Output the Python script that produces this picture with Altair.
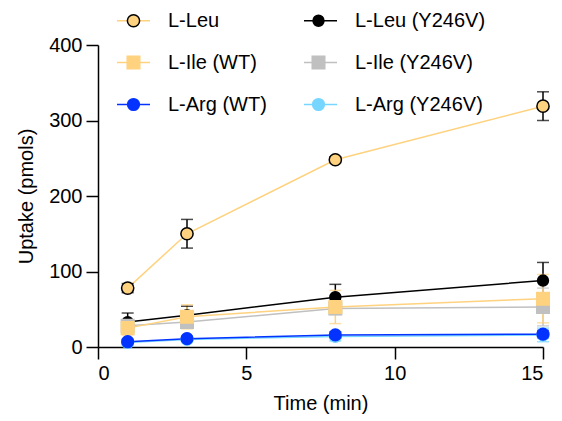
import altair as alt
import pandas as pd

time = [1, 3, 8, 15]
series_names = ["L-Leu", "L-Leu (Y246V)", "L-Ile (WT)", "L-Ile (Y246V)", "L-Arg (WT)", "L-Arg (Y246V)"]
leu_wt = [78, 150, 248, 319]
leu_wt_sd = [6, 19, 4, 19]
leu_y = [33, 42, 66, 88]
leu_y_sd = [12, 12, 17, 24]
ile_wt = [25, 40, 53, 64]
ile_wt_sd = [9, 16, 22, 32]
ile_y = [28, 33, 51, 53]
ile_y_sd = [5, 8, 8, 25]
arg_wt = [7, 11, 16, 17]
arg_wt_sd = [3, 3, 4, 5]
arg_y = [6, 10, 14, 16]
arg_y_sd = [4, 4, 6, 9]

colors = ["#FFD27F", "#000000", "#FFD27F", "#C0C0C0", "#0433FF", "#76D6FF"]
edges = ["#000000", "#000000", "#FFD27F", "#C0C0C0", "#0433FF", "#76D6FF"]
errcols = ["#000000", "#000000", "#FFD27F", "#C0C0C0", "#0433FF", "#76D6FF"]


def circ(r):
    return f"M{-r},0A{r},{r},0,1,1,{r},0A{r},{r},0,1,1,{-r},0Z"


def sq(h):
    return f"M{-h},{-h}H{h}V{h}H{-h}Z"


shapes = [circ(0.37), circ(0.33), sq(0.38), sq(0.38), circ(0.355), circ(0.355)]

# legend fills column-major: reorder so the two columns read WT | Y246V
leg_idx = [0, 2, 4, 1, 3, 5]
dom = [series_names[i] for i in leg_idx]
rng_col = [colors[i] for i in leg_idx]
rng_edge = [edges[i] for i in leg_idx]
rng_shape = [shapes[i] for i in leg_idx]

vals = [leu_wt, leu_y, ile_wt, ile_y, arg_wt, arg_y]
sds = [leu_wt_sd, leu_y_sd, ile_wt_sd, ile_y_sd, arg_wt_sd, arg_y_sd]
draw_order = [1, 3, 2, 5, 4, 0]

rows = []
for i in draw_order:
    for t, v, s in zip(time, vals[i], sds[i]):
        rows.append({"series": series_names[i], "series_p": series_names[i], "time": t,
                     "value": v, "lo": v - s, "hi": v + s, "ecol": errcols[i], "order": draw_order.index(i)})
df = pd.DataFrame(rows)

FONT = "Liberation Sans"
FS = 20

leg_common = dict(orient="none", legendX=18, legendY=-42, columns=2, symbolSize=1089,
                  symbolStrokeWidth=1.5, labelFontSize=FS, labelFont=FONT, labelOffset=17,
                  rowPadding=14, title=None, padding=0, labelLimit=300)

x = alt.X("time:Q", scale=alt.Scale(domain=[0, 15], nice=False),
          axis=alt.Axis(values=[0, 5, 10, 15], title="Time (min)"))
y = alt.Y("value:Q", scale=alt.Scale(domain=[0, 400], nice=False),
          axis=alt.Axis(values=[0, 100, 200, 300, 400], title="Uptake (pmols)"))

base = alt.Chart(df)

lines = base.mark_line(strokeWidth=1.5).encode(
    x=x, y=y,
    stroke=alt.Stroke("series:N", scale=alt.Scale(domain=dom, range=rng_col),
                      legend=alt.Legend(symbolType="stroke", labelColor="black",
                                        columnPadding=34, **leg_common)),
    order=alt.Order("time:Q"),
)

rules = base.mark_rule(strokeWidth=1.5).encode(
    x="time:Q", y="lo:Q", y2="hi:Q",
    stroke=alt.Stroke("ecol:N", scale=None),
)
cap_lo = base.mark_tick(orient="horizontal", size=12, thickness=1.5).encode(
    x="time:Q", y="lo:Q", color=alt.Color("ecol:N", scale=None))
cap_hi = base.mark_tick(orient="horizontal", size=12, thickness=1.5).encode(
    x="time:Q", y="hi:Q", color=alt.Color("ecol:N", scale=None))

pleg = alt.Legend(labelExpr="''", columnPadding=133, **leg_common)
points = base.mark_point(filled=True, opacity=1, size=1089, strokeWidth=1.5).encode(
    x="time:Q", y="value:Q",
    fill=alt.Fill("series_p:N", scale=alt.Scale(domain=dom, range=rng_col), legend=pleg),
    stroke=alt.Stroke("series_p:N", scale=alt.Scale(domain=dom, range=rng_edge), legend=pleg),
    shape=alt.Shape("series_p:N", scale=alt.Scale(domain=dom, range=rng_shape), legend=pleg),
    order=alt.Order("order:Q"),
)

chart = alt.layer(lines, rules, cap_lo, cap_hi, points).resolve_scale(
    stroke="independent", fill="independent", shape="independent", color="independent"
).resolve_legend(stroke="independent", fill="independent", shape="independent").properties(
    width=445, height=302,
    autosize=alt.AutoSizeParams(type="none"),
    padding={"left": 90, "top": 37, "right": 11, "bottom": 74},
).configure_view(stroke=None).configure_axis(
    labelFont=FONT, titleFont=FONT, labelFontSize=FS, titleFontSize=FS,
    labelColor="black", titleColor="black", titleFontWeight="normal",
    domainColor="black", tickColor="black", domainWidth=1.5, tickWidth=1.5,
    tickSize=12, grid=False, labelPadding=4,
).configure_axisY(titlePadding=12).configure_axisX(titlePadding=10)

chart.save("out.html", embed_options={"renderer": "svg", "actions": False})
